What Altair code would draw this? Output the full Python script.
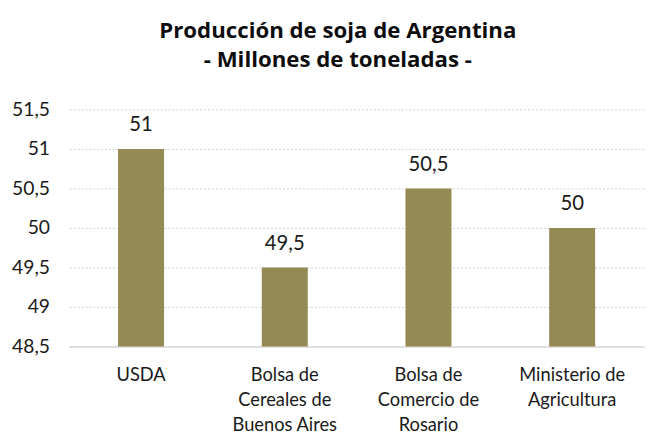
import altair as alt
import pandas as pd

categories = ["USDA", "Bolsa de|Cereales de|Buenos Aires", "Bolsa de|Comercio de|Rosario", "Ministerio de|Agricultura"]
values = [51, 49.5, 50.5, 50]
labels = ["51", "49,5", "50,5", "50"]
y_ticks = [48.5, 49, 49.5, 50, 50.5, 51, 51.5]

df = pd.DataFrame({"cat": categories, "val": values, "lab": labels})

FONT = "Lato"

x = alt.X("cat:N", sort=categories, title=None,
          scale=alt.Scale(paddingInner=0.68, paddingOuter=0.34),
          axis=alt.Axis(labelExpr="split(datum.value, '|')", labelAngle=0,
                        labelFontSize=18.5, labelFont=FONT, labelColor="#1a1a1a",
                        labelPadding=20, labelLineHeight=25, ticks=False,
                        domainColor="#d9d9d9", domainWidth=1.5, labelLimit=200))
y = alt.Y("val:Q", title=None,
          scale=alt.Scale(domain=[48.5, 51.5], nice=False, zero=False),
          axis=alt.Axis(values=y_ticks, tickCount=7, labelOverlap=False,
                        labelExpr="replace(format(datum.value, '~g'), '.', ',')",
                        labelFontSize=19.5, labelFont=FONT, labelColor="#1a1a1a",
                        labelPadding=20, ticks=False, domain=False, grid=True,
                        gridColor="#d0d0d0", gridDash=[2, 2], gridWidth=1))

base = alt.Chart(df).encode(x=x, y=y)
bars = base.mark_bar(color="#948A54", clip=True)
text = base.mark_text(dy=-18, fontSize=20.5, font=FONT, color="#1a1a1a", baseline="alphabetic").encode(text="lab:N")

chart = alt.layer(bars, text).properties(
    width=582, height=240,
    title=alt.TitleParams(["Producción de soja de Argentina", "- Millones de toneladas -"],
                          font="Open Sans", fontSize=22.5, fontWeight="bold", color="#0d0d0d",
                          anchor="middle", dx=-19, offset=28, lineHeight=30),
    padding={"left": 62, "top": 100, "right": 1, "bottom": 86},
    autosize=alt.AutoSizeParams(type="none"),
).configure_view(stroke=None).configure_axisX(grid=False)

chart.save("out.html", embed_options={"renderer": "svg", "actions": False})
